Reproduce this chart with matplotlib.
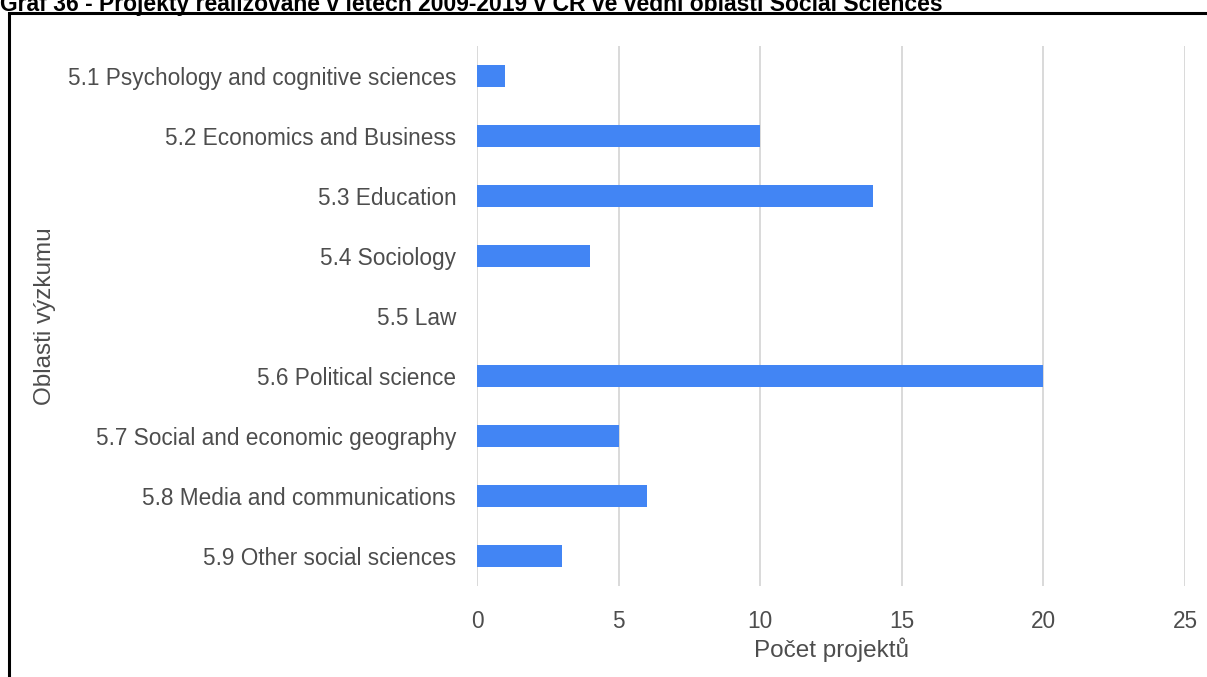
import matplotlib
matplotlib.use("Agg")
import matplotlib.pyplot as plt
from matplotlib.patches import Rectangle

categories = [
    "5.1 Psychology and cognitive sciences",
    "5.2 Economics and Business",
    "5.3 Education",
    "5.4 Sociology",
    "5.5 Law",
    "5.6 Political science",
    "5.7 Social and economic geography",
    "5.8 Media and communications",
    "5.9 Other social sciences",
]
values = [1, 10, 14, 4, 0, 20, 5, 6, 3]
xticks = [0, 5, 10, 15, 20, 25]
title = "Graf 36 - Projekty realizované v letech 2009-2019 v ČR ve vědní oblasti Social Sciences"
xlabel = "Počet projektů"
ylabel = "Oblasti výzkumu"

plt.rcParams['font.family'] = ['Liberation Sans', 'DejaVu Sans']
W, H = 1207, 677
fig = plt.figure(figsize=(W / 100, H / 100), dpi=100)
ax_top, ax_bot = 46, 586
ax = fig.add_axes([477 / W, 1 - ax_bot / H, (1185 - 477) / W, (ax_bot - ax_top) / H])

ypos = list(range(len(categories)))
ax.barh(ypos, values, height=0.37, color="#4285f4", zorder=3)
ax.set_ylim(len(categories) - 0.5, -0.5)
ax.set_xlim(0, 25)
ax.set_xticks(xticks)
ax.set_xticklabels([str(t) for t in xticks])
ax.set_yticks(ypos)
ax.set_yticklabels(categories)
ax.grid(axis="x", color="#d9d9d9", linewidth=1.4, zorder=0)
ax.grid(axis="y", visible=False)
for s in ax.spines.values():
    s.set_visible(False)
tc = "#4d4d4d"
ax.tick_params(axis="both", length=0, labelsize=16.3, colors=tc)
ax.tick_params(axis="x", pad=17)
ax.tick_params(axis="y", pad=15)
ax.set_xlabel(xlabel, fontsize=17.5, color=tc)
ax.set_ylabel(ylabel, fontsize=17.5, color=tc)
ax.xaxis.set_label_coords(0.5, -(650 - ax_bot) / (ax_bot - ax_top))
ax.xaxis.label.set_va("center")
ax.yaxis.set_label_coords(-(477 - 45) / (1185 - 477), 0.5)
ax.yaxis.label.set_va("center")

fig.patches.append(Rectangle((9 / W, -0.1), 1.2, 1 - 13 / H + 0.1,
                             transform=fig.transFigure, fill=False,
                             edgecolor="black", linewidth=2.2))
fig.text(0, 1 - 11 / H, title, fontsize=16.5, fontweight="bold",
         ha="left", va="baseline", color="black")

fig.savefig("out.png", dpi=100)
